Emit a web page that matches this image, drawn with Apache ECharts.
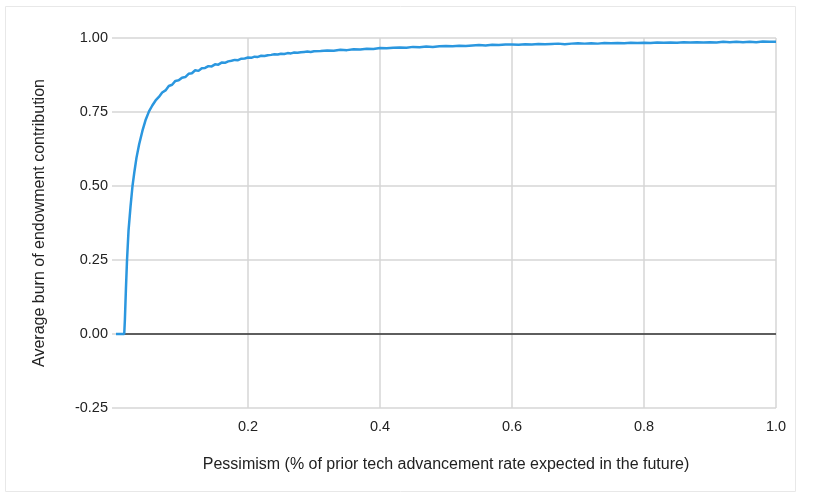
<!DOCTYPE html>
<html>
<head>
<meta charset="utf-8">
<script src="https://cdn.jsdelivr.net/npm/echarts@6/dist/echarts.min.js"></script>
<style>
html,body{margin:0;padding:0;background:#fff;}
#chart{width:814px;height:504px;}
</style>
</head>
<body>
<div id="chart"></div>
<script>
const pessimism = [
  0, 0.006, 0.0125, 0.0135, 0.015, 0.0167, 0.019, 0.022, 0.025, 0.028, 0.031, 0.035,
  0.040, 0.045, 0.050, 0.055, 0.060, 0.065, 0.070, 0.075, 0.080, 0.085, 0.090, 0.095,
  0.100, 0.105, 0.110, 0.115, 0.120, 0.125, 0.130, 0.135, 0.140, 0.145, 0.150, 0.155,
  0.160, 0.165, 0.170, 0.175, 0.180, 0.185, 0.190, 0.195, 0.200, 0.205, 0.210, 0.215,
  0.220, 0.225, 0.230, 0.235, 0.240, 0.245, 0.250, 0.255, 0.260, 0.265, 0.270, 0.275,
  0.280, 0.285, 0.290, 0.295, 0.300,
  0.31, 0.32, 0.33, 0.34, 0.35, 0.36, 0.37, 0.38, 0.39, 0.40,
  0.41, 0.42, 0.43, 0.44, 0.45, 0.46, 0.47, 0.48, 0.49, 0.50,
  0.51, 0.52, 0.53, 0.54, 0.55, 0.56, 0.57, 0.58, 0.59, 0.60,
  0.61, 0.62, 0.63, 0.64, 0.65, 0.66, 0.67, 0.68, 0.69, 0.70,
  0.71, 0.72, 0.73, 0.74, 0.75, 0.76, 0.77, 0.78, 0.79, 0.80,
  0.81, 0.82, 0.83, 0.84, 0.85, 0.86, 0.87, 0.88, 0.89, 0.90,
  0.91, 0.92, 0.93, 0.94, 0.95, 0.96, 0.97, 0.98, 0.99, 1.00
];
const avgBurn = [
  0, 0, 0, 0.05, 0.15, 0.25, 0.35, 0.43, 0.50, 0.55, 0.595, 0.64,
  0.686, 0.724, 0.752, 0.772, 0.789, 0.801, 0.816, 0.823, 0.838, 0.842, 0.855, 0.857,
  0.866, 0.868, 0.879, 0.881, 0.891, 0.889, 0.898, 0.899, 0.905, 0.904, 0.911, 0.910,
  0.917, 0.916, 0.921, 0.923, 0.926, 0.925, 0.930, 0.931, 0.934, 0.933, 0.937, 0.936,
  0.940, 0.939, 0.942, 0.943, 0.945, 0.944, 0.947, 0.946, 0.949, 0.948, 0.951, 0.950,
  0.952, 0.953, 0.954, 0.953, 0.955,
  0.956, 0.958, 0.957, 0.960, 0.959, 0.962, 0.961, 0.964, 0.963, 0.966,
  0.965, 0.967, 0.968, 0.967, 0.970, 0.969, 0.971, 0.970, 0.972, 0.973,
  0.972, 0.974, 0.973, 0.975, 0.976, 0.975, 0.977, 0.976, 0.978, 0.978,
  0.977, 0.979, 0.978, 0.980, 0.979, 0.980, 0.981, 0.979, 0.981, 0.982,
  0.981, 0.982, 0.981, 0.983, 0.982, 0.983, 0.982, 0.984, 0.983, 0.984,
  0.983, 0.985, 0.984, 0.985, 0.984, 0.986, 0.985, 0.986, 0.985, 0.986,
  0.985, 0.987, 0.986, 0.987, 0.986, 0.987, 0.986, 0.988, 0.987, 0.987
];
const xTitle = 'Pessimism (% of prior tech advancement rate expected in the future)';
const yTitle = 'Average burn of endowment contribution';

const seriesData = pessimism.map((x, i) => [x, avgBurn[i]]);
const FONT = '"Liberation Sans", Arial, Helvetica, sans-serif';

const chart = echarts.init(document.getElementById('chart'), null, {renderer: 'canvas'});
chart.setOption({
  animation: false,
  backgroundColor: '#ffffff',
  graphic: [{
    type: 'rect',
    shape: {x: 5.5, y: 6.5, width: 790, height: 485},
    style: {fill: 'none', stroke: '#e8e8e8', lineWidth: 1},
    silent: true, z: -1
  }],
  grid: {left: 116, right: 38, top: 38, bottom: 96, containLabel: false},
  xAxis: {
    type: 'value', min: 0, max: 1, interval: 0.2,
    name: xTitle, nameLocation: 'middle', nameGap: 49,
    nameTextStyle: {fontFamily: FONT, fontSize: 16, color: '#222'},
    axisLine: {show: false},
    axisTick: {show: false},
    axisLabel: {
      showMinLabel: false, margin: 11,
      fontFamily: FONT, fontSize: 14.5, color: '#222',
      formatter: v => v.toFixed(1)
    },
    splitLine: {show: true, showMinLine: false, lineStyle: {color: '#d6d6d6', width: 1.5}}
  },
  yAxis: {
    type: 'value', min: -0.25, max: 1, interval: 0.25,
    name: yTitle, nameLocation: 'middle', nameGap: 68,
    nameTextStyle: {fontFamily: FONT, fontSize: 16, color: '#222'},
    axisLine: {show: false},
    axisTick: {show: true, length: 4, lineStyle: {color: '#d6d6d6', width: 1.5}},
    axisLabel: {
      margin: 8,
      fontFamily: FONT, fontSize: 14.5, color: '#222',
      formatter: v => v.toFixed(2)
    },
    splitLine: {show: true, lineStyle: {color: '#d6d6d6', width: 1.5}}
  },
  series: [{
    type: 'line',
    data: seriesData,
    showSymbol: false,
    symbol: 'none',
    lineStyle: {color: '#2b97df', width: 2.5},
    z: 3,
    markLine: {
      silent: true,
      symbol: 'none',
      label: {show: false},
      lineStyle: {color: '#333', width: 1.5, type: 'solid'},
      data: [{yAxis: 0}],
      z: 2
    }
  }]
});
</script>
</body>
</html>
